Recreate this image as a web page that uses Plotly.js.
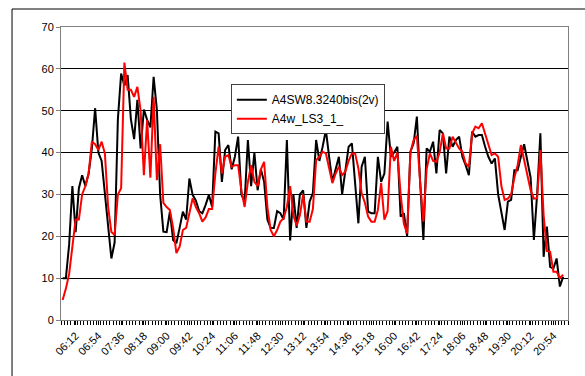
<!DOCTYPE html>
<html>
<head>
<meta charset="utf-8">
<script src="https://cdn.plot.ly/plotly-3.0.1.min.js"></script>
<style>
html,body{margin:0;padding:0;background:#fff;}
#chart{width:585px;height:376px;}
</style>
</head>
<body>
<div id="chart"></div>
<script>
// category index of each reading (6-minute steps)
const tickLabels = ["06:12","06:54","07:36","08:18","09:00","09:42","10:24","11:06","11:48","12:30","13:12","13:54","14:36","15:18","16:00","16:42","17:24","18:06","18:48","19:30","20:12","20:54"];
const tickIndex = [4,11,18,25,32,39,46,53,60,67,74,81,88,95,102,109,116,123,130,137,144,151];

const seriesBlackName = "A4SW8.3240bis(2v)";
const seriesRedName = "A4w_LS3_1_";

const blackValues = [
 10,10,18,32,21,31.5,34.6,32,35,41,
 50.6,40,38,30,21,14.7,18.5,48,58.9,56,
 58.5,48,43.2,52.6,41,50.3,47.8,46,58.1,50.2,
 30,21.1,21,25.9,19.1,18.3,22,25.9,24,33.8,
 29.9,28.5,26,25.5,27.5,29.9,27,45,44.6,33,
 40.6,41.8,36,39,43.8,30,28.3,43,32,40,
 31,36,33,24,22,22,26,25.5,24,43,
 19,30,22,30,31,22,28.3,30.3,43,38,
 41.4,45.4,39,33,36,39,30,35.4,41.4,42.2,
 31.8,23.1,36.6,39,25.9,25.5,25.5,39,33,35,
 47.4,39,40,41.4,24.7,25.5,19.9,40.2,42.2,48.6,
 33,19.1,41,40.2,42.6,35,45.4,44.6,35,43.8,
 41.4,43,43.8,39,37,34.6,45,43.8,44.2,44.2,
 41.4,39,37.4,38.6,30,25.5,21.5,28.3,28.7,35.8,
 35.8,39,42,38,34,19.1,30,44.6,15.1,22.3,
 12.7,12.3,14.7,8,10.3
];

const redValues = [
 4.8,7.5,11,18,24,24,30,32,35,42.6,
 42,40.6,42.6,39.8,27,21,20.3,30,31.5,61.5,
 55,55,53.3,55.7,50,34.6,47.8,34,53.3,33.4,
 42,28,27,26.3,22,16,17.5,21.5,22,25.5,
 29.1,27,25.5,23.5,24.5,26.5,26.5,35,41.4,35,
 39,39.4,36.6,37,37,31,27,33,37,33,
 32,36,37.8,27,21.5,20,21.5,23.5,24.3,27,
 32,25,22.5,25,30,23.5,23.5,26.5,38.2,39,
 40.2,39.8,36.6,32.7,35,36.6,34.6,35.5,38,39.8,
 39.8,36.2,30.3,28,24.7,23.5,23.5,26.3,32.7,24,
 26,41.4,38,40,30,23,20.7,40,43,44,
 33,23.5,36,39.8,38,37.8,40,44.6,41,41,
 43.8,42.2,41,40.2,37.4,36.6,44.6,46.2,45.8,47,
 44.6,41.8,39.4,39.8,39,32,28.7,29,30,34,
 37,41.8,38,34,31,29,29.1,40.6,25,16.5,
 16.3,11.5,11.5,10,10.8
];

const idxB = blackValues.map((_, i) => i);
const idxR = redValues.map((_, i) => i);

const traces = [
  {x: idxB, y: blackValues, type: "scatter", mode: "lines", name: seriesBlackName,
   line: {color: "#000000", width: 2}},
  {x: idxR, y: redValues, type: "scatter", mode: "lines", name: seriesRedName,
   line: {color: "#ff0000", width: 2}}
];

const fnt = {family: "Liberation Sans, Arial, sans-serif", size: 11, color: "#000"};

const layout = {
  width: 585, height: 376,
  margin: {l: 61, r: 17, t: 27, b: 56, pad: 0},
  paper_bgcolor: "#fff", plot_bgcolor: "#fff",
  showlegend: true,
  legend: {x: 0.335, y: 0.805, xanchor: "left", yanchor: "top",
           bgcolor: "#fff", bordercolor: "#404040", borderwidth: 1,
           font: {family: "Liberation Sans, Arial, sans-serif", size: 12, color: "#000"},
           itemwidth: 30, tracegroupgap: 0},
  xaxis: {range: [-0.5, 155.5], tickmode: "array", tickvals: tickIndex, ticktext: tickLabels,
          tickangle: -45, ticks: "outside", ticklen: 4, tickcolor: "#000",
          showgrid: false, zeroline: false, showline: true, linecolor: "#808080", linewidth: 1, mirror: true,
          tickfont: fnt, fixedrange: true,
          minor: {tick0: 0.5, dtick: 1, ticks: "outside", ticklen: 4, tickcolor: "#000", showgrid: false}},
  yaxis: {range: [0, 70], dtick: 10, tick0: 0, ticks: "outside", ticklen: 4, tickcolor: "#808080",
          showgrid: true, gridcolor: "#000", gridwidth: 1, zeroline: false,
          showline: true, linecolor: "#808080", linewidth: 1, mirror: true,
          tickfont: fnt, fixedrange: true},
  shapes: [
    {type: "rect", xref: "paper", yref: "paper", x0: -0.0966, x1: 1.06, y0: -0.3, y1: 1.0614,
     line: {color: "#000", width: 1}, fillcolor: "rgba(0,0,0,0)", layer: "below"}
  ]
};

Plotly.newPlot("chart", traces, layout, {staticPlot: true, displayModeBar: false});
</script>
</body>
</html>
